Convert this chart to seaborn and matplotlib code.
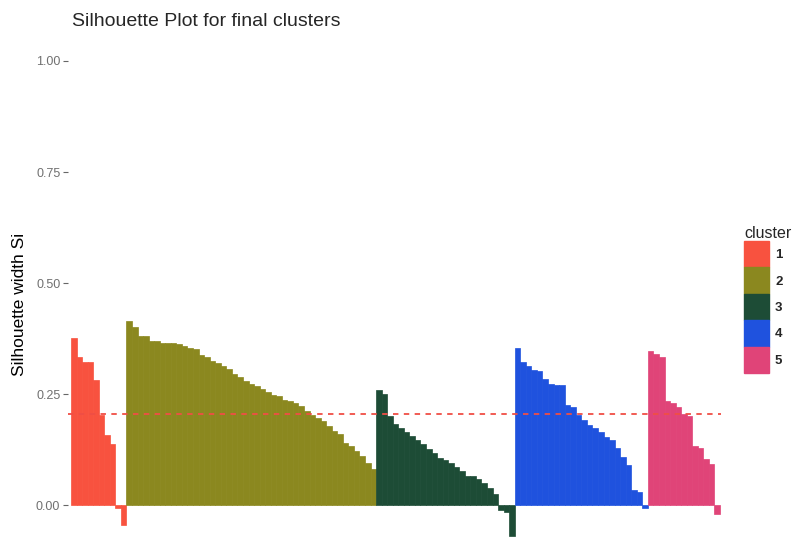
import numpy as np
import pandas as pd
import matplotlib
matplotlib.use("Agg")
import matplotlib.pyplot as plt
import seaborn as sns
from matplotlib.patches import Patch

# ---- data ----
cluster1 = [0.377, 0.333, 0.322, 0.322, 0.281, 0.204, 0.158, 0.137, -0.007, -0.045]
cluster2 = [0.414, 0.401, 0.380, 0.380, 0.369, 0.369, 0.366, 0.366, 0.366, 0.362,
            0.358, 0.354, 0.351, 0.339, 0.333, 0.324, 0.321, 0.313, 0.306, 0.296,
            0.288, 0.280, 0.272, 0.268, 0.261, 0.256, 0.249, 0.245, 0.238, 0.235,
            0.231, 0.223, 0.212, 0.204, 0.197, 0.189, 0.178, 0.167, 0.160, 0.141,
            0.133, 0.122, 0.111, 0.096, 0.081]
cluster3 = [0.260, 0.250, 0.200, 0.184, 0.175, 0.165, 0.156, 0.146, 0.137, 0.126,
            0.117, 0.107, 0.102, 0.096, 0.087, 0.077, 0.066, 0.065, 0.059, 0.051,
            0.040, 0.025, -0.011, -0.016, -0.070]
cluster4 = [0.353, 0.323, 0.313, 0.304, 0.302, 0.285, 0.274, 0.270, 0.270, 0.225,
            0.221, 0.203, 0.191, 0.180, 0.175, 0.165, 0.154, 0.146, 0.128, 0.109,
            0.090, 0.034, 0.030, -0.007]
cluster5 = [0.348, 0.340, 0.334, 0.235, 0.230, 0.221, 0.206, 0.200, 0.133, 0.128,
            0.105, 0.092, -0.020]
cluster_labels = ["1", "2", "3", "4", "5"]
cluster_colors = ["#F8523F", "#8B881F", "#1D4C36", "#1F52DE", "#E04478"]
avg_width = 0.205
y_ticks = [0.00, 0.25, 0.50, 0.75, 1.00]
y_tick_labels = ["0.00", "0.25", "0.50", "0.75", "1.00"]
title = "Silhouette Plot for final clusters"
y_label = "Silhouette width Si"

all_vals = [cluster1, cluster2, cluster3, cluster4, cluster5]
rows = []
for lab, vals in zip(cluster_labels, all_vals):
    for v in vals:
        rows.append({"cluster": lab, "sil": v})
df = pd.DataFrame(rows)
df["idx"] = np.arange(len(df))

sns.set_style("white")
plt.rcParams["font.family"] = ["Liberation Sans", "DejaVu Sans"]

fig = plt.figure(figsize=(7.94, 5.40), dpi=100)
ax = fig.add_axes([68 / 794, 0.0, (721 - 68) / 794, 1 - 38.75 / 540])

sns.barplot(data=df, x="idx", y="sil", hue="cluster", hue_order=cluster_labels,
            palette=dict(zip(cluster_labels, cluster_colors)), width=1.0,
            dodge=False, native_scale=True, legend=False, ax=ax, linewidth=0,
            saturation=1)
for p in ax.patches:
    p.set_edgecolor(p.get_facecolor())
    p.set_linewidth(0.5)

ax.axhline(avg_width, color="#F04E45", linestyle=(0, (3, 3)), linewidth=1.3)

n = len(df)
ax.set_xlim(-1.04, n - 0.32)
ax.set_ylim(-0.078, 1.05)
ax.set_xticks([])
ax.set_xlabel("")
ax.set_yticks(y_ticks)
ax.set_yticklabels(y_tick_labels)
ax.tick_params(axis="y", length=3.5, width=0.8, color="#666666", labelcolor="#707070",
               labelsize=9, pad=2, left=True)
for s in ax.spines.values():
    s.set_visible(False)
ax.set_ylabel(y_label, fontsize=12.5, color="black")
ax.yaxis.set_label_coords(-0.063, 0.47)

fig.text(72 / 794, 1 - 21 / 540, title, fontsize=14, va="center", ha="left")

handles = [Patch(facecolor=c, edgecolor=c) for c in cluster_colors]
leg = fig.legend(handles, cluster_labels, title="cluster", loc="upper left",
                 bbox_to_anchor=(744 / 794, 1 - 226 / 540), frameon=False,
                 fontsize=9.5, title_fontsize=11.5, handlelength=1.9, handleheight=2.7,
                 labelspacing=0.0, handletextpad=0.45, borderpad=0, borderaxespad=0,
                 alignment="left")
for t in leg.get_texts():
    t.set_fontweight("bold")

fig.savefig("out.png", dpi=100)
